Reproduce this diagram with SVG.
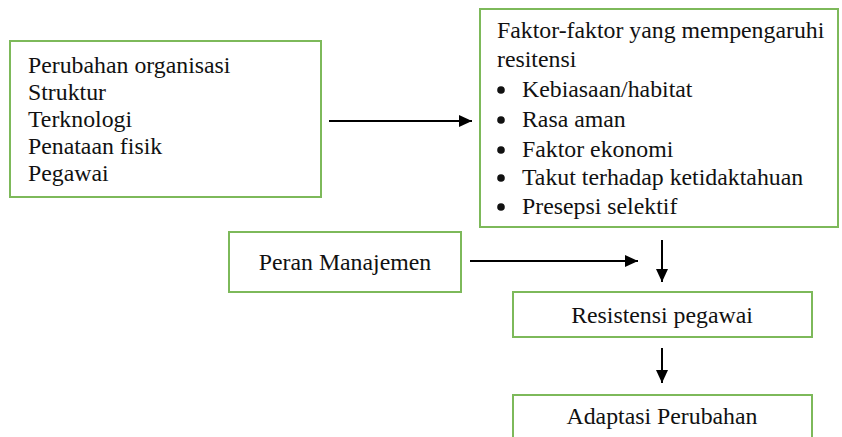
<svg xmlns="http://www.w3.org/2000/svg" width="842" height="437" viewBox="0 0 842 437">
<style>
.box{fill:#fff;stroke:#7DB95A;stroke-width:2}
.t{font-family:"Liberation Serif","Times New Roman",serif;font-size:23.8px;fill:#111}
.c{text-anchor:middle}
.ln{stroke:#000;stroke-width:2;fill:none}
.b{fill:#111}
</style>
<defs>
<marker id="ah" markerWidth="14" markerHeight="12" refX="13" refY="6" orient="auto" markerUnits="userSpaceOnUse">
<path d="M0,0 L13,6 L0,12 Z" fill="#000"/>
</marker>
</defs>
<rect width="842" height="437" fill="#fff"/>
<g id="n-perubahan">
<rect class="box" x="10" y="41" width="311" height="156"/>
<text class="t" x="28" y="73">Perubahan organisasi</text>
<text class="t" x="28" y="100">Struktur</text>
<text class="t" x="28" y="127">Terknologi</text>
<text class="t" x="28" y="154">Penataan fisik</text>
<text class="t" x="28" y="181">Pegawai</text>
</g>
<g id="n-faktor">
<rect class="box" x="480" y="9" width="358" height="218"/>
<text class="t" x="497" y="38">Faktor-faktor yang mempengaruhi</text>
<text class="t" x="497" y="67">resitensi</text>
<circle class="b" cx="501" cy="90" r="3.8"/>
<text class="t" x="522" y="97">Kebiasaan/habitat</text>
<circle class="b" cx="501" cy="120" r="3.8"/>
<text class="t" x="522" y="127">Rasa aman</text>
<circle class="b" cx="501" cy="150" r="3.8"/>
<text class="t" x="522" y="157">Faktor ekonomi</text>
<circle class="b" cx="501" cy="178" r="3.8"/>
<text class="t" x="522" y="185">Takut terhadap ketidaktahuan</text>
<circle class="b" cx="501" cy="207" r="3.8"/>
<text class="t" x="522" y="214">Presepsi selektif</text>
</g>
<g id="n-peran">
<rect class="box" x="229" y="232" width="232" height="60"/>
<text class="t c" x="345" y="270">Peran Manajemen</text>
</g>
<g id="n-resistensi">
<rect class="box" x="513" y="292" width="299" height="45"/>
<text class="t c" x="662" y="323">Resistensi pegawai</text>
</g>
<g id="n-adaptasi">
<rect class="box" x="513" y="395" width="299" height="50"/>
<text class="t c" x="662" y="424">Adaptasi Perubahan</text>
</g>
<g id="connectors">
<line class="ln" x1="329" y1="121" x2="472" y2="121" marker-end="url(#ah)"/>
<line class="ln" x1="470" y1="261" x2="638" y2="261" marker-end="url(#ah)"/>
<line class="ln" x1="662" y1="240" x2="662" y2="282" marker-end="url(#ah)"/>
<line class="ln" x1="662" y1="348" x2="662" y2="383" marker-end="url(#ah)"/>
</g>
</svg>
